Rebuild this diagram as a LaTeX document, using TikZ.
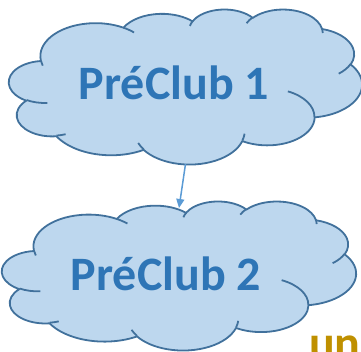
\documentclass[tikz,border=0pt]{standalone}
\usepackage{fontspec}
\setmainfont{Carlito}
\usetikzlibrary{arrows.meta}
\definecolor{cloudfill}{HTML}{BDD7EE}
\definecolor{cloudedge}{HTML}{41719C}
\definecolor{cloudtext}{HTML}{2E75B6}
\definecolor{linkblue}{HTML}{5B9BD5}
\definecolor{gold}{HTML}{BF9000}

% one puff of the cloud outline: \w/\h radii, \s start, \d sweep (visual angles)
\newcommand\puffarc{%
  \pgfextra{%
    \pgfmathparse{atan2((\w)*sin(\s),(\h)*cos(\s))}\global\let\cpa\pgfmathresult
    \pgfmathparse{atan2((\w)*sin((\s)+(\d)),(\h)*cos((\s)+(\d)))}\global\let\cpb\pgfmathresult
    \pgfmathparse{(\cpb)+360*round(((\cpa)+(\d)-(\cpb))/360)}\global\let\cpb\pgfmathresult}%
  arc[start angle=\cpa, end angle=\cpb, x radius=\w, y radius=\h]}

% cloud drawn in the frame of a node, path units 1/432 of the frame
\newcommand\officecloud[3]{%
  \pgfmathsetmacro\cloudx{#2/432}%
  \pgfmathsetmacro\cloudy{#3/432}%
  \begin{scope}[shift={(#1.north west)}, x=\cloudx pt, y=-\cloudy pt]
    \draw[puff, fill=cloudfill] (39.00,143.70)
      \foreach \w/\h/\s/\d in {67.53/91.90/-190.4875/123.7805, 53.33/72.67/-144.1024/89.9452,
        43.65/59.45/-145.8079/99.7230, 48.57/65.95/-130.9861/117.2417,
        53.33/72.73/-78.7089/109.0269, 67.75/92.20/-46.2673/130.2690,
        57.85/78.67/0.6250/114.0333, 67.52/92.15/22.4516/115.1726,
        77.20/105.43/66.2426/75.7110, 43.60/59.18/-274.9421/146.7356,
        43.45/59.45/-246.8285/152.5189}{\puffarc} -- cycle;
    \draw[puff]
      \foreach \px/\py/\w/\h/\s/\d in {46.93/261.77/43.45/59.45/86.7420/26.4295,
        69.28/348.99/43.60/59.18/73.6105/11.4475,
        164.78/390.90/67.52/92.15/137.6242/14.0811,
        288.27/347.51/67.52/92.15/6.4533/15.9984,
        341.29/229.54/57.85/78.67/-70.2924/70.9174,
        417.98/153.54/53.33/72.73/30.3180/27.7515,
        383.24/54.26/48.57/65.95/-13.7443/14.8589,
        290.78/39.52/48.57/65.95/-149.1815/18.1954,
        221.41/47.20/43.65/59.45/-163.4943/17.6864,
        140.00/51.92/67.53/91.90/-66.7070/12.3194,
        41.27/157.89/67.53/91.90/157.6544/11.8582}{(\px,\py) \puffarc};
  \end{scope}}

\begin{document}
\begin{tikzpicture}[x=1pt, y=-1pt,
  frame/.style={inner sep=0pt, outer sep=0pt},
  puff/.style={draw=cloudedge, line width=1.8pt, line join=round},
  cloudlabel/.style={anchor=base, inner sep=0pt, text=cloudtext,
                     font=\fontsize{48}{58}\selectfont\bfseries},
  arr/.style={-{Triangle[length=9pt, width=8pt]}, draw=linkblue, line width=1.5pt}
]
\useasboundingbox (0,0) rectangle (361,351);
\clip (0,0) rectangle (361,351);

\node[frame, minimum width=353pt, minimum height=155pt] (cloud1) at (185.5,86.5) {};
\node[frame, minimum width=354pt, minimum height=149pt] (cloud2) at (179,275.5) {};
\officecloud{cloud1}{353}{155}
\officecloud{cloud2}{354}{149}

\node[cloudlabel] (pre1) at (174,99) {PréClub 1};
\node[cloudlabel] (pre2) at (166,290) {PréClub 2};

\draw[arr] (cloud1.south) -- ([yshift=-7pt]cloud2.north);

\node[anchor=base west, inner sep=0pt, text=gold,
      font=\fontsize{48}{58}\selectfont\bfseries] (tail) at (309,359) {un};
\end{tikzpicture}
\end{document}
